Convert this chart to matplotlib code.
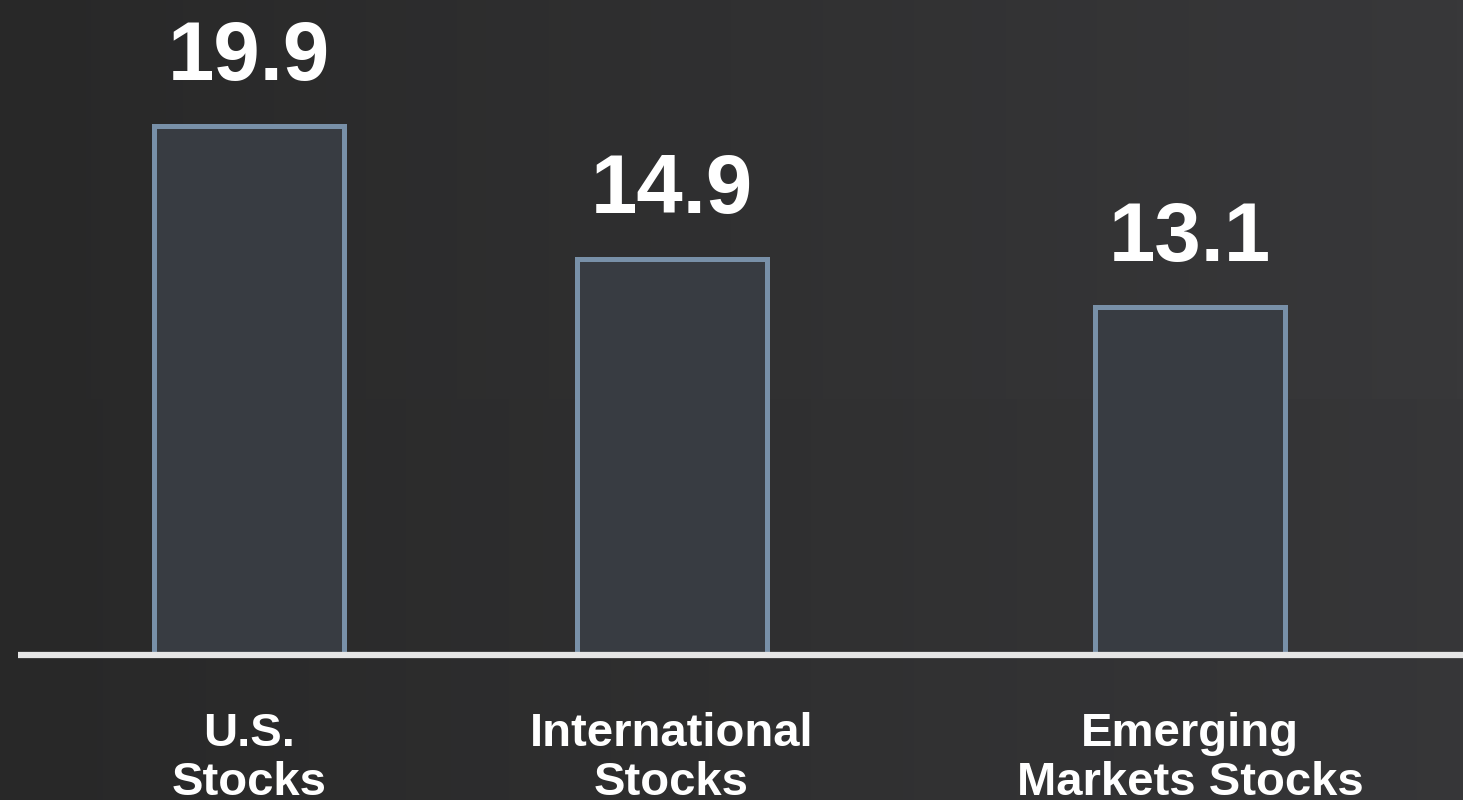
import numpy as np
import matplotlib
matplotlib.use('Agg')
import matplotlib.pyplot as plt

plt.rcParams['font.family'] = ['Liberation Sans', 'DejaVu Sans']
plt.rcParams['font.weight'] = 'bold'

categories = ['U.S.\nStocks', 'International\nStocks', 'Emerging\nMarkets Stocks']
values = [19.9, 14.9, 13.1]

# bar centres along a 0..1463 wide x axis
x_pos = [249, 671.5, 1190]
bar_width = 190

fig = plt.figure(figsize=(14.63, 8), dpi=100)
ax = fig.add_axes([0, 0, 1, 1])

# zero sits 145 px above the bottom edge
px = 26.6  # pixels per unit
y0 = -145 / px
y1 = (800 - 145) / px
ax.set_xlim(0, 1463)
ax.set_ylim(y0, y1)

# dark background, a bit lighter toward the right
grad = np.linspace(0, 1, 256).reshape(1, -1)
grad = np.vstack([grad, grad * 0.9])
bg = matplotlib.colors.LinearSegmentedColormap.from_list('bg', ['#282828', '#38383a'])
ax.imshow(grad, cmap=bg, extent=[0, 1463, y0, y1], aspect='auto', zorder=0)

bars = ax.bar(x_pos, values, width=bar_width, color='#383c42', edgecolor='#7890a8',
              linewidth=3.6, zorder=2)

ax.plot([18, 1463], [0, 0], color='#e6e6e6', linewidth=4.5, solid_capstyle='butt', zorder=3)

for x, v in zip(x_pos, values):
    ax.annotate(f'{v:.1f}', xy=(x, v), xytext=(0, 46), textcoords='offset pixels',
                ha='center', va='baseline', color='white', fontsize=60, fontweight='bold')

# two-line category labels, last line's baseline near the bottom edge
for x, label in zip(x_pos, categories):
    ax.text(x, -140 / px, label, ha='center', va='baseline', color='white',
            fontsize=34, fontweight='bold', linespacing=1.15)

ax.axis('off')
fig.savefig('out.png', dpi=100)
